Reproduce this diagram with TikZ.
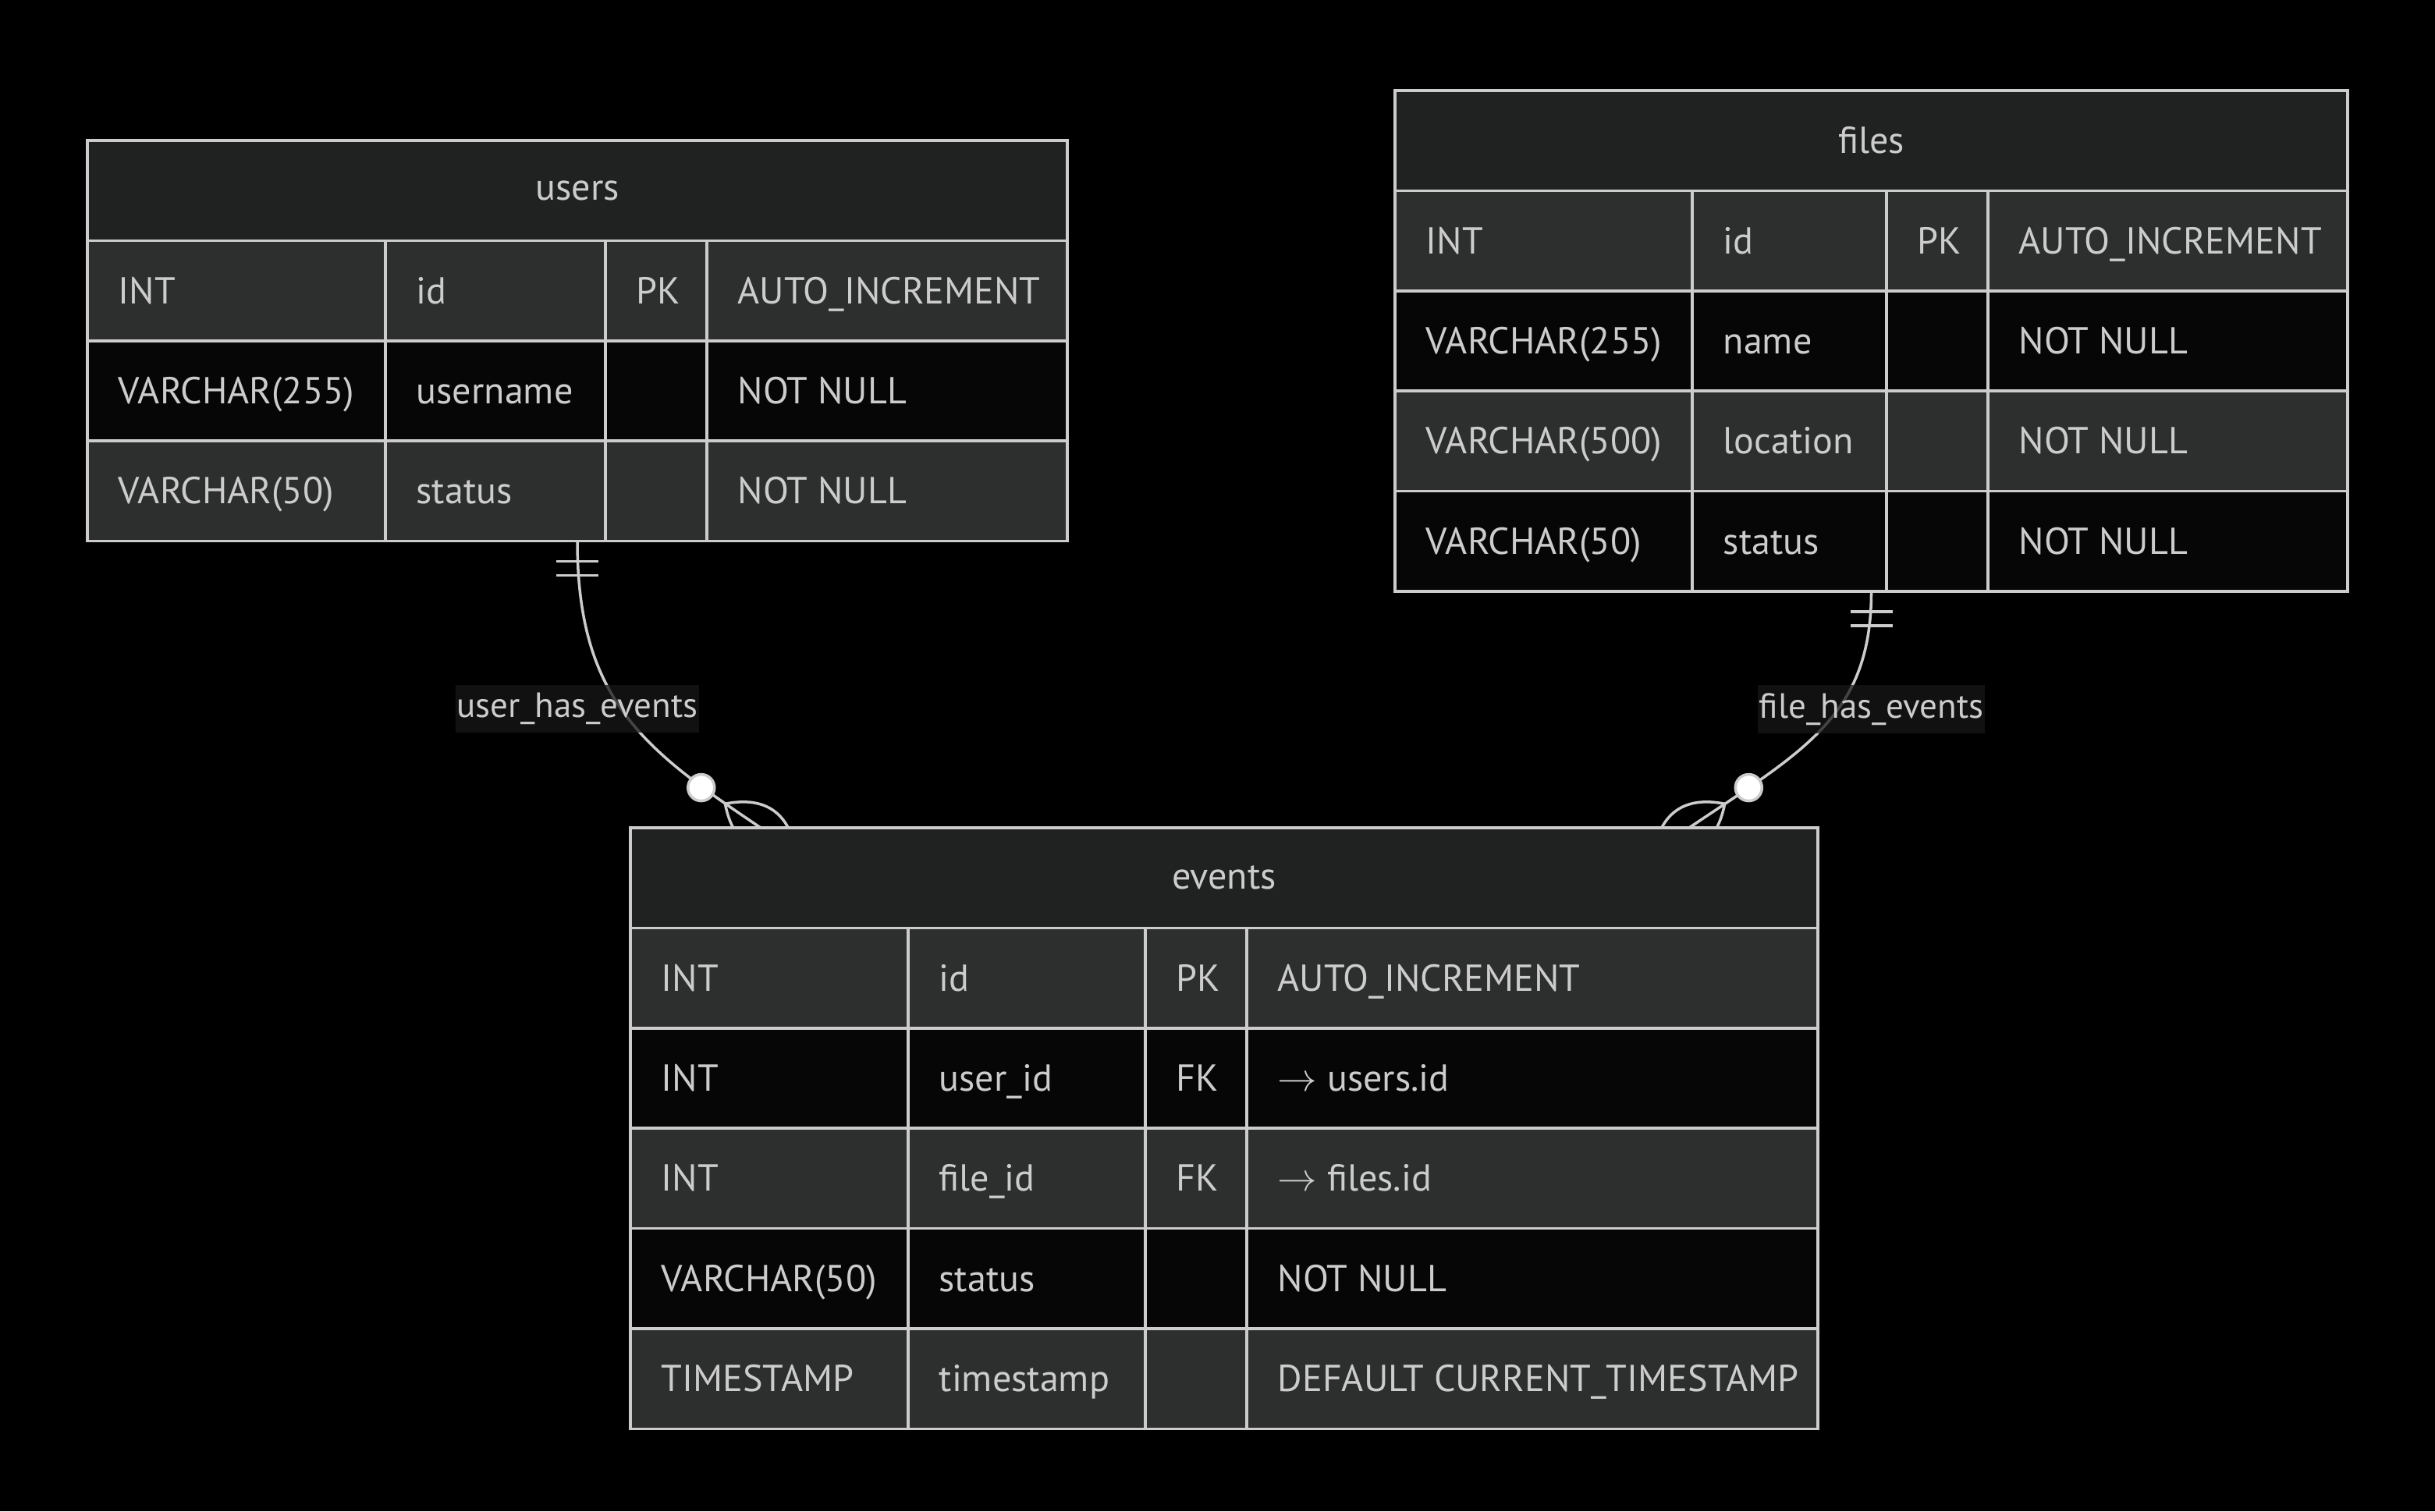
\documentclass[tikz,border=0pt]{standalone}
\usepackage{fontspec}
\setmainfont{PT Sans}
\usetikzlibrary{positioning}

\definecolor{canvas}{RGB}{0,0,0}
\definecolor{ink}{RGB}{204,204,204}
\definecolor{headfill}{RGB}{32,34,33}
\definecolor{rowgray}{RGB}{45,47,46}
\definecolor{rowdark}{RGB}{6,6,6}
\definecolor{labelbg}{RGB}{23,23,23}

\pgfdeclarelayer{canvaslayer}
\pgfdeclarelayer{edgelayer}
\pgfsetlayers{canvaslayer,edgelayer,main}

\tikzset{
  tabcell/.style={draw=ink, line width=1pt, minimum height=1.284cm, inner sep=0pt, outer sep=0pt,
    text=ink, font=\fontsize{13.7}{16}\selectfont},
  header/.style={tabcell, fill=headfill},
  field/.style={anchor=base west, inner sep=0pt, text=ink, font=\fontsize{13.7}{16}\selectfont},
  relline/.style={draw=ink, line width=1pt},
  rellabel/.style={fill=labelbg, fill opacity=0.75, text opacity=1, text=ink, inner xsep=0.02cm,
    inner ysep=0.1cm, font=\fontsize{12.8}{15}\selectfont},
  zerodot/.style={circle, fill=white, draw=ink, line width=1pt, minimum size=0.34cm, inner sep=0pt},
}

\begin{document}
\begin{tikzpicture}
    \begin{pgfonlayer}{canvaslayer}
        \fill[canvas] (0,0) rectangle (31.21,-19.37);
    \end{pgfonlayer}
    \useasboundingbox (0,0) rectangle (31.21,-19.37);

    % users
    \node[header, minimum width=12.56cm, anchor=north west, alias=users-0] (users) at (1.12,-1.80) {users};
    \foreach \ty/\fn/\key/\note [count=\i] in {INT/id/PK/AUTO\_INCREMENT,
        VARCHAR(255)/username//NOT NULL, VARCHAR(50)/status//NOT NULL} {
        \pgfmathtruncatemacro{\j}{\i-1}
        \ifodd\i \def\rowcol{rowgray}\else\def\rowcol{rowdark}\fi
        \node[tabcell, fill=\rowcol, minimum width=12.56cm, below=0pt of users-\j] (users-\i) {};
        \node[field] (users-\i-a) at ([xshift=0.39cm, yshift=-0.165cm]users-\i.west) {\ty};
        \node[field] (users-\i-b) at ([xshift=4.21cm, yshift=-0.165cm]users-\i.west) {\fn};
        \node[field] (users-\i-c) at ([xshift=7.03cm, yshift=-0.165cm]users-\i.west) {\key};
        \node[field] (users-\i-d) at ([xshift=8.33cm, yshift=-0.165cm]users-\i.west) {\note};
    }
    \foreach \cx in {3.82,6.64,7.94}
        \draw[relline] ([xshift=\cx cm]users.south west) -- ([xshift=\cx cm]users-3.south west);

    % files
    \node[header, minimum width=12.21cm, anchor=north west, alias=files-0] (files) at (17.88,-1.16) {files};
    \foreach \ty/\fn/\key/\note [count=\i] in {INT/id/PK/AUTO\_INCREMENT,
        VARCHAR(255)/name//NOT NULL, VARCHAR(500)/location//NOT NULL, VARCHAR(50)/status//NOT NULL} {
        \pgfmathtruncatemacro{\j}{\i-1}
        \ifodd\i \def\rowcol{rowgray}\else\def\rowcol{rowdark}\fi
        \node[tabcell, fill=\rowcol, minimum width=12.21cm, below=0pt of files-\j] (files-\i) {};
        \node[field] (files-\i-a) at ([xshift=0.39cm, yshift=-0.165cm]files-\i.west) {\ty};
        \node[field] (files-\i-b) at ([xshift=4.20cm, yshift=-0.165cm]files-\i.west) {\fn};
        \node[field] (files-\i-c) at ([xshift=6.69cm, yshift=-0.165cm]files-\i.west) {\key};
        \node[field] (files-\i-d) at ([xshift=7.99cm, yshift=-0.165cm]files-\i.west) {\note};
    }
    \foreach \cx in {3.81,6.30,7.60}
        \draw[relline] ([xshift=\cx cm]files.south west) -- ([xshift=\cx cm]files-4.south west);

    % events
    \node[header, minimum width=15.22cm, anchor=north west, alias=events-0] (events) at (8.08,-10.61) {events};
    \foreach \ty/\fn/\key/\note [count=\i] in {INT/id/PK/AUTO\_INCREMENT,
        INT/user\_id/FK/{\(\rightarrow\) users.id}, INT/file\_id/FK/{\(\rightarrow\) files.id},
        VARCHAR(50)/status//NOT NULL, TIMESTAMP/timestamp//DEFAULT CURRENT\_TIMESTAMP} {
        \pgfmathtruncatemacro{\j}{\i-1}
        \ifodd\i \def\rowcol{rowgray}\else\def\rowcol{rowdark}\fi
        \node[tabcell, fill=\rowcol, minimum width=15.22cm, below=0pt of events-\j] (events-\i) {};
        \node[field] (events-\i-a) at ([xshift=0.39cm, yshift=-0.165cm]events-\i.west) {\ty};
        \node[field] (events-\i-b) at ([xshift=3.95cm, yshift=-0.165cm]events-\i.west) {\fn};
        \node[field] (events-\i-c) at ([xshift=6.99cm, yshift=-0.165cm]events-\i.west) {\key};
        \node[field] (events-\i-d) at ([xshift=8.29cm, yshift=-0.165cm]events-\i.west) {\note};
    }
    \foreach \cx in {3.56,6.60,7.90}
        \draw[relline] ([xshift=\cx cm]events.south west) -- ([xshift=\cx cm]events-5.south west);

    % relations
    \coordinate (ue) at ([xshift=-5.94cm]events.north);
    \coordinate (fe) at ([xshift=5.96cm]events.north);
    \begin{pgfonlayer}{edgelayer}
        \draw[relline] (users-3.south) to[out=-90, in=146, out distance=2.06cm, in distance=1.77cm] (ue);
        \draw[relline] (files-4.south) to[out=-90, in=34, out distance=1.6cm, in distance=1.77cm] (fe);
        \draw[relline] ([xshift=-0.27cm, yshift=-0.26cm]users-3.south) -- ([xshift=0.27cm, yshift=-0.26cm]users-3.south);
        \draw[relline] ([xshift=-0.27cm, yshift=-0.44cm]users-3.south) -- ([xshift=0.27cm, yshift=-0.44cm]users-3.south);
        \draw[relline] ([xshift=-0.27cm, yshift=-0.26cm]files-4.south) -- ([xshift=0.27cm, yshift=-0.26cm]files-4.south);
        \draw[relline] ([xshift=-0.27cm, yshift=-0.44cm]files-4.south) -- ([xshift=0.27cm, yshift=-0.44cm]files-4.south);
        \begin{scope}[shift={(ue)}, rotate=146]
            \draw[relline] (0.55,0) .. controls (0.183,0.367) and (-0.183,0.367) .. (-0.55,0)
                (0.55,0) .. controls (0.183,-0.367) and (-0.183,-0.367) .. (-0.55,0);
            \node[zerodot] (udot) at (0.92,0) {};
        \end{scope}
        \begin{scope}[shift={(fe)}, rotate=34]
            \draw[relline] (0.55,0) .. controls (0.183,0.367) and (-0.183,0.367) .. (-0.55,0)
                (0.55,0) .. controls (0.183,-0.367) and (-0.183,-0.367) .. (-0.55,0);
            \node[zerodot] (fdot) at (0.92,0) {};
        \end{scope}
    \end{pgfonlayer}
    \node[rellabel] (userlbl) at ([yshift=-2.15cm]users-3.south) {user\_has\_events};
    \node[rellabel] (filelbl) at ([yshift=-1.51cm]files-4.south) {file\_has\_events};
\end{tikzpicture}
\end{document}
